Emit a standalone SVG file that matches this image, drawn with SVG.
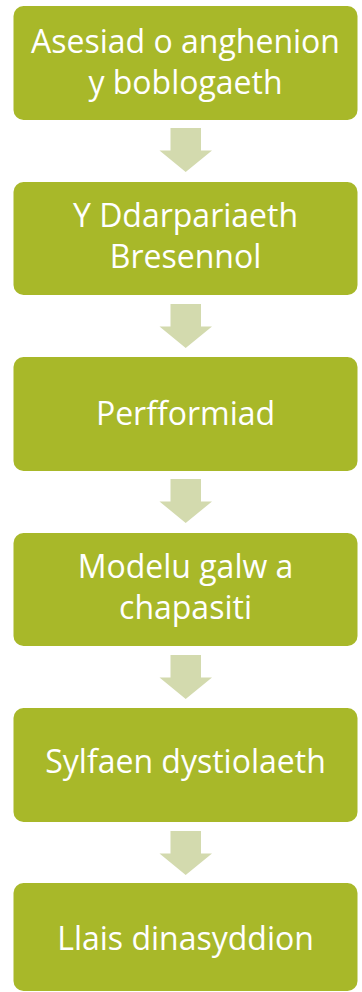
<svg xmlns="http://www.w3.org/2000/svg" width="362" height="992" viewBox="0 0 362 992">
<defs>
<style>
.box{fill:#A8B829;}
.arr{fill:#D3DAAE;}
.t{fill:#FFFFFF;font-family:"Open Sans","Liberation Sans",sans-serif;font-size:32px;text-anchor:middle;}
</style>
<path id="arrow" class="arr" d="M170.5,0 H201 V22.5 H212 L185.7,44 L159.5,22.5 H170.5 Z"/>
</defs>
<rect width="362" height="992" fill="#FFFFFF"/>
<g id="connectors">
<use href="#arrow" y="128"/>
<use href="#arrow" y="304"/>
<use href="#arrow" y="479"/>
<use href="#arrow" y="655"/>
<use href="#arrow" y="831"/>
</g>
<g id="node1">
<rect class="box" x="13.5" y="6" width="344" height="114" rx="10"/>
<text class="t" x="185.5" y="53">Asesiad o anghenion</text>
<text class="t" x="185.5" y="94">y boblogaeth</text>
</g>
<g id="node2">
<rect class="box" x="13.5" y="182" width="344" height="113" rx="10"/>
<text class="t" x="185.5" y="227">Y Ddarpariaeth</text>
<text class="t" x="185.5" y="268">Bresennol</text>
</g>
<g id="node3">
<rect class="box" x="13.5" y="357" width="344" height="114" rx="10"/>
<text class="t" x="185.5" y="425">Perfformiad</text>
</g>
<g id="node4">
<rect class="box" x="13.5" y="533" width="344" height="113" rx="10"/>
<text class="t" x="185.5" y="578">Modelu galw a</text>
<text class="t" x="185.5" y="619">chapasiti</text>
</g>
<g id="node5">
<rect class="box" x="13.5" y="708" width="344" height="114" rx="10"/>
<text class="t" x="185.5" y="773">Sylfaen dystiolaeth</text>
</g>
<g id="node6">
<rect class="box" x="13.5" y="883" width="344" height="108" rx="10"/>
<text class="t" x="185.5" y="950">Llais dinasyddion</text>
</g>
</svg>
